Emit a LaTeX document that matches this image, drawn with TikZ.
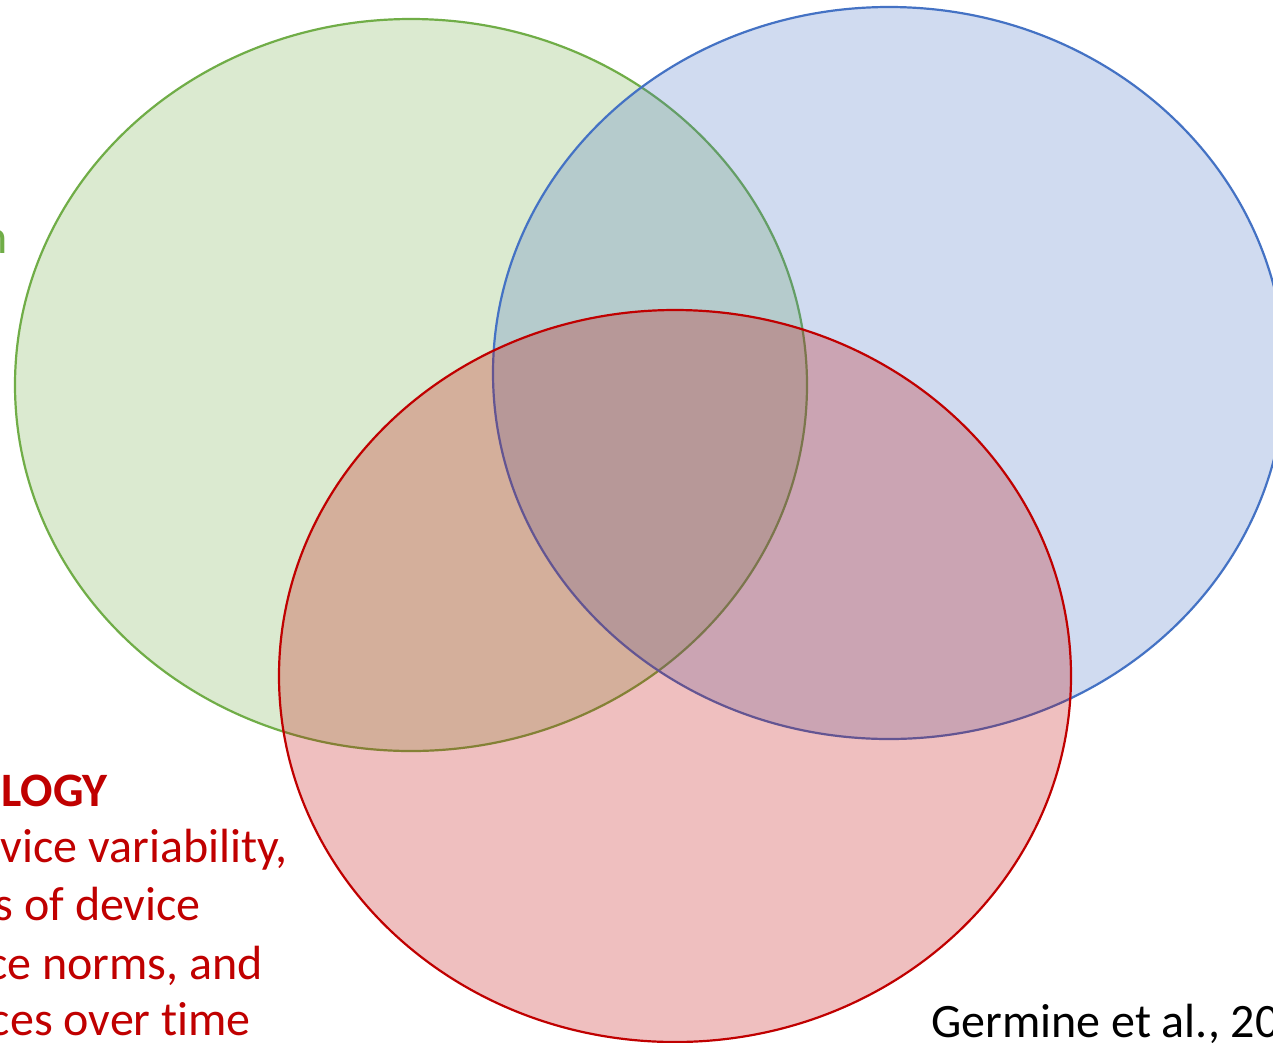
\documentclass[tikz,border=0pt]{standalone}
\usepackage{fontspec}
\setmainfont{Carlito}[Ligatures=NoCommon]
\usetikzlibrary{shapes.geometric}
\definecolor{vgreen}{HTML}{70AD47}
\definecolor{vblue}{HTML}{4472C4}
\definecolor{vred}{HTML}{C00000}
\tikzset{
  venn/.style={ellipse, draw=#1, fill=#1, fill opacity=0.25, draw opacity=1, line width=2.2pt,
    minimum width=792pt, minimum height=732pt, inner sep=0pt, outer sep=0pt},
  lbl/.style={font=\fontsize{48}{58}\selectfont, inner sep=0pt, anchor=base east},
}
\begin{document}
\begin{tikzpicture}[x=1pt,y=-1pt]
\path[use as bounding box, clip] (0,0) rectangle (1273,1042);
\fill[white] (0,0) rectangle (1273,1042);
\node[venn=vgreen] (psy) at (411,385) {};
\node[venn=vblue] (stat) at (889,373) {};
\node[venn=vred] (tech) at (675,676) {};
\node[lbl, text=vgreen] (n1) at (8,253) {n};
\node[lbl, text=vred, font=\bfseries\fontsize{48}{58}\selectfont] (r0) at (108,806) {LOGY};
\node[lbl, text=vred] (r1) at (288,862) {vice variability,};
\node[lbl, text=vred] (r2) at (201,920) {s of device};
\node[lbl, text=vred] (r3) at (263,979) {ce norms, and};
\node[lbl, text=vred] (r4) at (251,1035) {ces over time};
\node[lbl, anchor=base west, text=black] (cite) at (931,1037) {Germine et al., 20};
\end{tikzpicture}
\end{document}
